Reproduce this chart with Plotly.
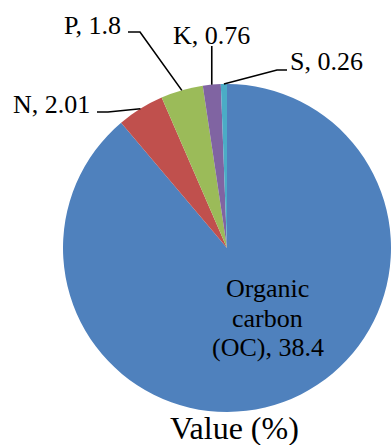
import math
import plotly.graph_objects as go

labels = ["Organic carbon (OC)", "N", "P", "K", "S"]
values = [38.4, 2.01, 1.8, 0.76, 0.26]
label_text = ["Organic carbon (OC), 38.4", "N, 2.01", "P, 1.8", "K, 0.76", "S, 0.26"]
oc_lines = ["Organic", "carbon", "(OC), 38.4"]
colors = ["#4F81BD", "#C0504D", "#9BBB59", "#8064A2", "#4BACC6"]
title_text = "Value (%)"

W, H = 391, 445
dom_x = [63 / W, 1.0]
dom_y = [33 / H, 361 / H]
FONT = "Liberation Serif, Times New Roman, serif"
LBL = 26


def px2paper(x, y):
    return x / W, (H - y) / H


# label layout (pixels): text center, leader start, leader elbow
label_layout = {
    "N": dict(text=(51, 104), start=(97, 112), elbow=(108, 112)),
    "P": dict(text=(92.5, 25), start=(128, 32), elbow=(140, 32)),
    "K": dict(text=(211.5, 35.5), start=None, elbow=None),
    "S": dict(text=(326.5, 62), start=(287, 70), elbow=(277, 70)),
}

fig = go.Figure(go.Pie(
    labels=labels, values=values, sort=False, direction="clockwise", rotation=0,
    marker=dict(colors=colors, line=dict(width=0)),
    textinfo="none", hoverinfo="label+value", showlegend=False,
    domain=dict(x=dom_x, y=dom_y),
))

# slice rim points computed from the data
r_px = min((dom_x[1] - dom_x[0]) * W, (dom_y[1] - dom_y[0]) * H) / 2
cx_px = (dom_x[0] + dom_x[1]) / 2 * W
cy_px = H - (dom_y[0] + dom_y[1]) / 2 * H
total = sum(values)
cum = 0.0
annotations = []
shapes = []
for lab, val, txt in zip(labels, values, label_text):
    mid = (cum + val / 2) / total * 2 * math.pi
    cum += val
    if lab not in label_layout:
        continue
    rx = cx_px + r_px * math.sin(mid)
    ry = cy_px - r_px * math.cos(mid)
    lay = label_layout[lab]
    tx, ty = lay["text"]
    x, y = px2paper(tx, ty)
    annotations.append(dict(
        x=x, y=y, xref="paper", yref="paper", xanchor="center", yanchor="middle",
        text=txt, showarrow=False,
        font=dict(family=FONT, size=LBL, color="black")))
    if lay["start"] is None:
        pts = [(rx, ty + 10.5), (rx, ry)]
    else:
        pts = [lay["start"], lay["elbow"], (rx, ry)]
    ppts = [px2paper(*p) for p in pts]
    path = "M " + " L ".join(f"{a:.5f},{b:.5f}" for a, b in ppts)
    shapes.append(dict(type="path", path=path, xref="paper", yref="paper",
                       line=dict(color="black", width=1.6)))

# inside label for the large slice
for line_txt, cy in zip(oc_lines, [288, 318.5, 347]):
    x, y = px2paper(267.5, cy)
    annotations.append(dict(
        x=x, y=y, xref="paper", yref="paper", xanchor="center", yanchor="middle",
        text=line_txt, showarrow=False,
        font=dict(family=FONT, size=LBL, color="black")))

x, y = px2paper(234.5, 427.5)
annotations.append(dict(
    x=x, y=y, xref="paper", yref="paper", xanchor="center", yanchor="middle",
    text=title_text, showarrow=False,
    font=dict(family=FONT, size=32, color="black")))

fig.update_layout(
    width=W, height=H, margin=dict(l=0, r=0, t=0, b=0),
    paper_bgcolor="white", plot_bgcolor="white",
    annotations=annotations, shapes=shapes,
)
fig.write_html("out.html", config={"displayModeBar": False},
               post_script="document.body.style.margin='0';")
